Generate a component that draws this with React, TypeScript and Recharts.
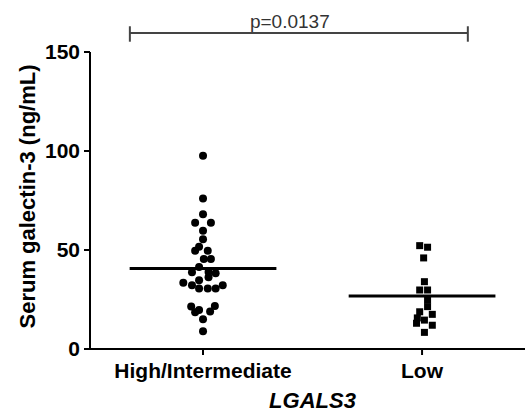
import { ScatterChart, Scatter, XAxis, YAxis, ReferenceLine } from 'recharts';

const GROUPS = ['High/Intermediate', 'Low'];
const MEANS = [40.7, 26.8];

// serum galectin-3 values (ng/mL) and horizontal jitter (in dot widths)
const HIGH_VALUES = [97.6, 76, 68, 63.8, 63.8, 59.7, 55.4, 51.7, 49.6, 49.6, 45.5, 45.5, 41.4, 38.7, 38.9, 38.2, 36.2, 34.7, 33.5, 32.2, 32.2, 30.5, 30.5, 30.5, 21.5, 21.7, 19.7, 19, 18.5, 15, 9];
const HIGH_JITTER = [0, 0, 0, -1, 1, 0, 0, -0.5, -1, 0.6, 0.1, 1, -0.5, -1.4, 0.7, 1.6, 0.7, -0.5, -2.5, -1.4, 2.5, -0.5, 0.6, 1.6, -1.5, 1.5, -0.5, 0.9, -1, 0, 0];
const LOW_VALUES = [52.2, 51.4, 46, 34, 29.8, 29.8, 24.7, 21.4, 18.8, 17.5, 15.7, 14.6, 13, 12, 8.4];
const LOW_JITTER = [-0.3, 0.7, 0.2, 0.3, -0.3, 0.7, 0.7, 0.7, -0.3, 1.3, -0.6, 0.3, -0.7, 1.3, 0.3];

const Y_TICKS = [0, 50, 100, 150];
const P_LABEL = 'p=0.0137';

const DOT = 0.036; // one dot width in x units

const highData = HIGH_VALUES.map((y, i) => ({ x: 1 + HIGH_JITTER[i] * DOT, y }));
const lowData = LOW_VALUES.map((y, i) => ({ x: 2 + LOW_JITTER[i] * DOT, y }));

const Circle = (p: any) => <circle cx={p.cx} cy={p.cy} r={4} fill="#000" />;
const Square = (p: any) => <rect x={p.cx - 3.5} y={p.cy - 3.5} width={7} height={7} fill="#000" />;

const FONT = 'Arial, "Liberation Sans", sans-serif';
const bold = { fontFamily: FONT, fontWeight: 700, fontSize: 21, fill: '#000' };

export default function App() {
  return (
    <div style={{ width: 525, height: 414, background: '#fff' }}>
      <style>{'body{margin:0}'}</style>
      <ScatterChart width={525} height={414} margin={{ top: 52, right: 0, bottom: 0, left: 0 }}>
        <XAxis
          type="number"
          dataKey="x"
          domain={[0.484, 2.47]}
          ticks={[1, 2]}
          tickFormatter={(v: number) => GROUPS[v - 1]}
          allowDataOverflow
          height={65}
          stroke="#000"
          strokeWidth={2}
          tickSize={6}
          tickMargin={8}
          tick={bold}
          label={{
            value: 'LGALS3',
            position: 'insideBottom',
            offset: 6,
            dx: 5,
            style: { ...bold, fontSize: 22, fontStyle: 'italic' },
          }}
        />
        <YAxis
          type="number"
          dataKey="y"
          domain={[0, 150]}
          ticks={Y_TICKS}
          width={90}
          stroke="#000"
          strokeWidth={2}
          tickSize={6}
          tickMargin={4}
          tick={bold}
          label={{
            value: 'Serum galectin-3 (ng/mL)',
            angle: -90,
            position: 'center',
            dx: -18,
            dy: -4,
            style: { ...bold, fontSize: 22 },
          }}
        />
        <Scatter data={highData} shape={Circle} isAnimationActive={false} />
        <Scatter data={lowData} shape={Square} isAnimationActive={false} />
        {MEANS.map((m, i) => (
          <ReferenceLine
            key={i}
            segment={[{ x: i + 1 - 0.335, y: m }, { x: i + 1 + 0.335, y: m }]}
            stroke="#000"
            strokeWidth={3}
          />
        ))}
        <ReferenceLine
          segment={[{ x: 0.666, y: 159.6 }, { x: 2.209, y: 159.6 }]}
          stroke="#444"
          strokeWidth={2}
          ifOverflow="visible"
          label={{
            value: P_LABEL,
            position: 'top',
            offset: 5,
            dx: -9,
            style: { fontFamily: FONT, fontSize: 19, fill: '#333' },
          }}
        />
        <ReferenceLine segment={[{ x: 0.666, y: 155.2 }, { x: 0.666, y: 163 }]} stroke="#444" strokeWidth={2} ifOverflow="visible" />
        <ReferenceLine segment={[{ x: 2.209, y: 155.2 }, { x: 2.209, y: 163 }]} stroke="#444" strokeWidth={2} ifOverflow="visible" />
      </ScatterChart>
    </div>
  );
}
